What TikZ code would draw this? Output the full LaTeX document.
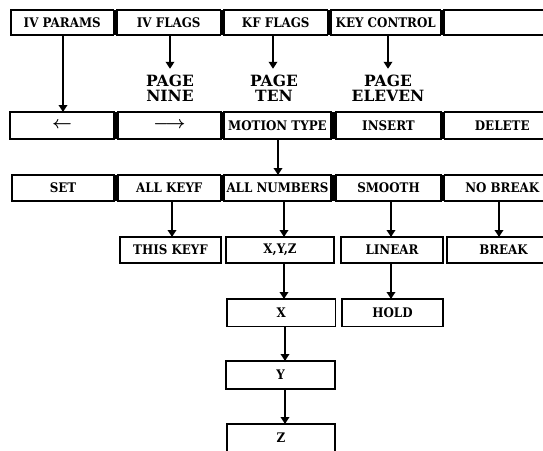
\documentclass[tikz,border=0pt]{standalone}
\usepackage{amsmath}
\usepackage{fontspec}
\usetikzlibrary{arrows.meta}
\newfontfamily\boxfont{DejaVu Serif}[FakeStretch=0.9]
\newfontfamily\pagefont{DejaVu Serif}
\newcommand\mybox[7]{\node[#1, minimum width={(#4-#3)*1pt}, minimum height={(#6-#5)*1pt}] (#2) at ({(#3+#4)/2},{(#5+#6)/2}) {#7};}
\newcommand\bigarrow[1]{{\fontsize{18}{18}\selectfont$\boldsymbol{#1}$}}
\begin{document}
\begin{tikzpicture}[x=1pt,y=-1pt,
  box/.style={draw, line width=1.4pt, inner sep=0pt, outer sep=0pt,
    font=\boxfont\bfseries\fontsize{13.2}{14}\selectfont},
  thinbox/.style={box, line width=1.2pt},
  arr/.style={line width=2.7pt, -{Triangle[width=8.5pt,length=7pt]}},
  lbl/.style={font=\pagefont\bfseries\fontsize{15.5}{14.5}\selectfont, align=center, inner sep=0pt},
  sep/.style={fill=black}]
\useasboundingbox (0,0) rectangle (543,450);
% row 1
\mybox{box}{ivp}{11}{113.5}{10}{35}{IV PARAMS}
\mybox{box}{ivf}{117}{220.5}{10}{35}{IV FLAGS}
\mybox{box}{kff}{224}{327.5}{10}{35}{KF FLAGS}
\mybox{box}{kc}{331}{440.5}{10}{35}{KEY CONTROL}
\mybox{box}{eb}{444}{560}{10}{35}{}
\fill[sep] (ivp.north east) rectangle (ivf.south west);
\fill[sep] (ivf.north east) rectangle (kff.south west);
\fill[sep] (kff.north east) rectangle (kc.south west);
\fill[sep] (kc.north east) rectangle (eb.south west);
% page labels
\node[lbl] (p9) at (170,88) {PAGE\\NINE};
\node[lbl] (p10) at (274,88) {PAGE\\TEN};
\node[lbl] (p11) at (388,88) {PAGE\\ELEVEN};
% row 2
\mybox{box}{la}{10}{114}{112}{139}{\bigarrow{\leftarrow}}
\mybox{box}{ra}{118}{221}{112}{139}{\bigarrow{\longrightarrow}}
\mybox{box}{mt}{224}{331}{112}{139}{MOTION TYPE}
\mybox{box}{ins}{336}{441}{112}{139}{INSERT}
\mybox{box}{del}{444.5}{560}{112}{139}{DELETE}
\fill[sep] (la.north east) rectangle (ra.south west);
\fill[sep] (ra.north east) rectangle (mt.south west);
\fill[sep] (mt.north east) rectangle (ins.south west);
\fill[sep] (ins.north east) rectangle (del.south west);
% row 3
\mybox{box}{set}{12}{114}{175}{201}{SET}
\mybox{box}{allk}{118}{220.5}{175}{201}{ALL KEYF}
\mybox{box}{alln}{224}{331}{175}{201}{ALL NUMBERS}
\mybox{box}{sm}{336}{441}{175}{201}{SMOOTH}
\mybox{box}{nb}{444.5}{560}{175}{201}{NO BREAK}
\fill[sep] (set.north east) rectangle (allk.south west);
\fill[sep] (allk.north east) rectangle (alln.south west);
\fill[sep] (alln.north east) rectangle (sm.south west);
\fill[sep] (sm.north east) rectangle (nb.south west);
% row 4
\mybox{thinbox}{thisk}{120}{221}{237}{263}{THIS KEYF}
\mybox{thinbox}{xyz}{226}{334}{237}{263}{X,Y,Z}
\mybox{thinbox}{lin}{341}{443}{237}{263}{LINEAR}
\mybox{thinbox}{brk}{447}{560}{237}{263}{BREAK}
% rows 5-7
\mybox{thinbox}{bx}{227}{335.5}{299}{326.5}{X}
\mybox{thinbox}{hold}{342}{443}{299}{326.5}{HOLD}
\mybox{thinbox}{by}{226}{335}{361}{389}{Y}
\mybox{thinbox}{bz}{227}{335}{424}{452}{Z}
% arrow columns
\coordinate (c1) at (63,0);
\coordinate (c2) at (170,0);
\coordinate (c3) at (273,0);
\coordinate (c4) at (388,0);
\coordinate (c5) at (278,0);
\coordinate (c6) at (172,0);
\coordinate (c7) at (284,0);
\coordinate (c8) at (391,0);
\coordinate (c9) at (499,0);
\coordinate (c10) at (285,0);
% arrows
\draw[arr] (ivp.south -| c1) -- (la.north -| c1);
\draw[arr] (ivf.south -| c2) -- ([yshift=6pt]p9.north -| c2);
\draw[arr] (kff.south -| c3) -- ([yshift=6pt]p10.north -| c3);
\draw[arr] (kc.south -| c4) -- ([yshift=6pt]p11.north -| c4);
\draw[arr] (mt.south -| c5) -- (alln.north -| c5);
\draw[arr] (allk.south -| c6) -- (thisk.north -| c6);
\draw[arr] (alln.south -| c7) -- (xyz.north -| c7);
\draw[arr] (sm.south -| c8) -- (lin.north -| c8);
\draw[arr] (nb.south -| c9) -- (brk.north -| c9);
\draw[arr] (xyz.south -| c7) -- (bx.north -| c7);
\draw[arr] (lin.south -| c8) -- (hold.north -| c8);
\draw[arr] (bx.south -| c10) -- (by.north -| c10);
\draw[arr] (by.south -| c10) -- (bz.north -| c10);
\end{tikzpicture}
\end{document}
